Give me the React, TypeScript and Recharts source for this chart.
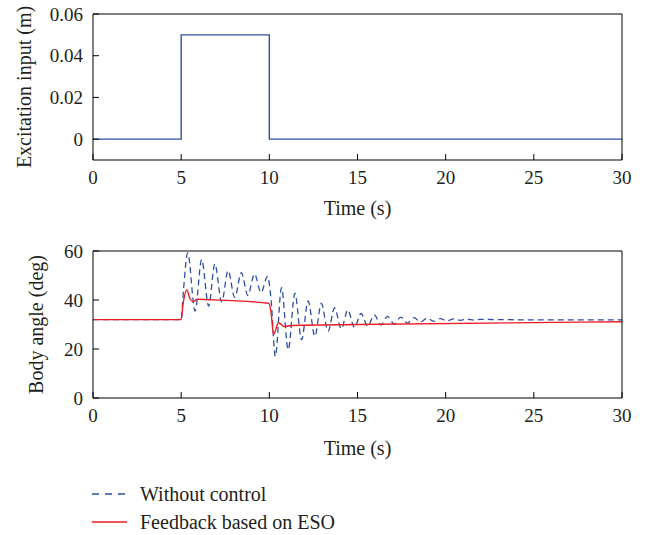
import { LineChart, Line, XAxis, YAxis } from "recharts";

// Two stacked MATLAB-style panels: excitation step on top, body angle response below.

const FONT = "'Liberation Serif', 'DejaVu Serif', serif";
const TEXT = "#231f20";
const BLUE = "#2d4fa3";
const RED = "#ec1c24";

const TIME_TICKS = [0, 5, 10, 15, 20, 25, 30];
const INPUT_TICKS = [0, 0.02, 0.04, 0.06];
const ANGLE_TICKS = [0, 20, 40, 60];

// excitation input (m)
const INPUT_T = [0, 5, 5, 10, 10, 30];
const INPUT_V = [0, 0, 0.05, 0.05, 0, 0];

// body angle without control (deg)
const NO_CTRL_T = [
  0, 5, 5.13, 5.37, 5.79, 6.16, 6.56, 6.91, 7.3, 7.66, 8.04, 8.41, 8.78, 9.16, 9.53, 9.9,
  10.1, 10.34, 10.69, 11.07, 11.45, 11.83, 12.2, 12.58, 12.95, 13.33, 13.7, 14.08, 14.45,
  14.83, 15.2, 15.58, 15.95, 16.33, 16.7, 17.08, 17.45, 17.83, 18.2, 18.58, 18.95, 19.33,
  19.7, 20.08, 20.45, 20.83, 21.2, 21.6, 22, 23, 25, 30,
];
const NO_CTRL_V = [
  32, 32, 44, 59.2, 35.5, 56.5, 37.5, 54.7, 39.2, 52, 41, 51.2, 41.9, 50.6, 43, 49.6,
  40, 17, 45, 19.7, 42.7, 23.8, 39.6, 25.2, 38.6, 27.2, 36.8, 28.2, 35.9,
  28.8, 34.5, 29.3, 33.9, 29.8, 33.3, 30.2, 33, 30.6, 32.8, 31, 32.6, 31.3,
  32.4, 31.5, 32.3, 31.7, 32.2, 31.8, 32.1, 32, 31.9, 31.9,
];

// body angle with ESO feedback (deg)
const ESO_T = [0, 5, 5.1, 5.32, 5.5, 5.69, 5.9, 6.3, 9.96, 10.09, 10.24, 10.52, 10.84, 11.3, 15, 30];
const ESO_V = [32, 32, 38, 44.1, 40.5, 39.3, 40.3, 40.2, 38.7, 35.5, 25.9, 30.7, 29.2, 29.6, 30, 31.1];

const toRows = (ts: number[], vs: number[]) => ts.map((t, i) => ({ t, v: vs[i] }));

const inputData = toRows(INPUT_T, INPUT_V);
const noCtrlData = toRows(NO_CTRL_T, NO_CTRL_V);
const esoData = toRows(ESO_T, ESO_V);

const tickStyle = { fill: TEXT, fontSize: 19, fontFamily: FONT };
const labelStyle = { fill: TEXT, fontSize: 20, fontFamily: FONT, textAnchor: "middle" as const };
const black = { stroke: "#000", strokeWidth: 1 };

// box with inward ticks on all four sides
function frame(
  yDomain: [number, number],
  yTicks: number[],
  yLabel: string,
  yLabelOffset: number,
  xLabelOffset: number,
  yFmt: (v: number) => string
) {
  return [
    <XAxis
      key="xb"
      xAxisId="b"
      type="number"
      dataKey="t"
      domain={[0, 30]}
      ticks={TIME_TICKS}
      interval={0}
      allowDataOverflow
      height={70}
      tickSize={-6}
      tickMargin={17}
      axisLine={black}
      tickLine={black}
      tick={tickStyle}
      label={{ value: "Time (s)", position: "insideBottom", offset: xLabelOffset, style: labelStyle }}
    />,
    <XAxis
      key="xt"
      xAxisId="t"
      orientation="top"
      type="number"
      domain={[0, 30]}
      ticks={TIME_TICKS}
      interval={0}
      allowDataOverflow
      height={1}
      tickSize={-6}
      axisLine={black}
      tickLine={black}
      tick={false}
    />,
    <YAxis
      key="yl"
      yAxisId="l"
      type="number"
      domain={yDomain}
      ticks={yTicks}
      interval={0}
      allowDataOverflow
      width={93}
      tickSize={-6}
      tickMargin={16}
      axisLine={black}
      tickLine={black}
      tick={tickStyle}
      tickFormatter={yFmt}
      label={{ value: yLabel, angle: -90, position: "insideLeft", offset: yLabelOffset, style: labelStyle }}
    />,
    <YAxis
      key="yr"
      yAxisId="r"
      orientation="right"
      type="number"
      domain={yDomain}
      ticks={yTicks}
      interval={0}
      allowDataOverflow
      width={1}
      tickSize={-6}
      axisLine={black}
      tickLine={black}
      tick={false}
    />,
  ];
}

function LegendRow({ dashed, color, text, top }: { dashed?: boolean; color: string; text: string; top: number }) {
  return (
    <div style={{ position: "absolute", left: 92, top, height: 28, display: "flex", alignItems: "center" }}>
      <svg width={36} height={10}>
        <line x1={0} y1={5} x2={35} y2={5} stroke={color} strokeWidth={1.4} strokeDasharray={dashed ? "7 6" : undefined} />
      </svg>
      <span style={{ marginLeft: 12, fontFamily: FONT, fontSize: 20, color: TEXT, whiteSpace: "nowrap" }}>{text}</span>
    </div>
  );
}

export default function App() {
  return (
    <div style={{ position: "absolute", left: 0, top: 0, width: 647, height: 535, background: "#fff" }}>
      <div style={{ position: "absolute", left: 0, top: 0 }}>
        <LineChart width={647} height={230} margin={{ top: 13, right: 24, bottom: 0, left: 0 }}>
          {frame([-0.01, 0.06], INPUT_TICKS, "Excitation input (m)", 24, 15, (v) => String(v))}
          <Line
            xAxisId="b"
            yAxisId="l"
            data={inputData}
            dataKey="v"
            type="linear"
            stroke={BLUE}
            strokeWidth={1.4}
            dot={false}
            isAnimationActive={false}
          />
        </LineChart>
      </div>
      <div style={{ position: "absolute", left: 0, top: 237 }}>
        <LineChart width={647} height={231} margin={{ top: 13, right: 24, bottom: 0, left: 0 }}>
          {frame([0, 60], ANGLE_TICKS, "Body angle (deg)", 36, 13, (v) => String(v))}
          <Line
            xAxisId="b"
            yAxisId="l"
            data={noCtrlData}
            dataKey="v"
            type="monotone"
            stroke={BLUE}
            strokeWidth={1.3}
            strokeDasharray="6 4"
            dot={false}
            isAnimationActive={false}
          />
          <Line
            xAxisId="b"
            yAxisId="l"
            data={esoData}
            dataKey="v"
            type="monotone"
            stroke={RED}
            strokeWidth={1.4}
            dot={false}
            isAnimationActive={false}
          />
        </LineChart>
      </div>
      <LegendRow dashed color={BLUE} text="Without control" top={480} />
      <LegendRow color={RED} text="Feedback based on ESO" top={508} />
    </div>
  );
}
